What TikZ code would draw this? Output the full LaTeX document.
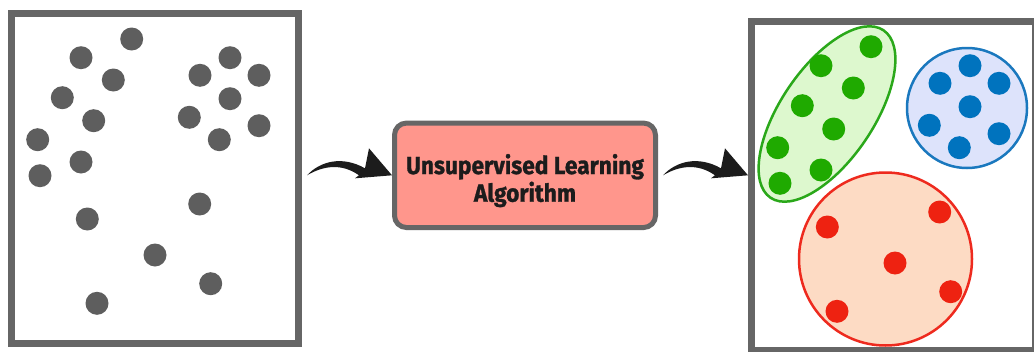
\documentclass[tikz,border=0pt]{standalone}
\usepackage{fontspec}
\setmainfont{Fira Sans}
\newfontfamily\algofont[BoldFeatures={FakeBold=1.2}]{Fira Sans}
\usetikzlibrary{calc,shapes.geometric}

\definecolor{framegray}{HTML}{666666}
\definecolor{dotgray}{HTML}{5E5E5E}
\definecolor{algofill}{HTML}{FF968C}
\definecolor{ink}{HTML}{1C1C1C}
\definecolor{gdot}{HTML}{1FAA00}
\definecolor{gline}{HTML}{2AA81A}
\definecolor{gfill}{HTML}{DDF8CE}
\definecolor{bdot}{HTML}{0073BE}
\definecolor{bline}{HTML}{1A78BE}
\definecolor{bfill}{HTML}{DDE3FB}
\definecolor{rdot}{HTML}{EE2211}
\definecolor{rline}{HTML}{EE2A1E}
\definecolor{rfill}{HTML}{FDDBC4}

\tikzset{
  framebox/.style={draw=framegray, line width=7, rectangle, inner sep=0,
    minimum width=287, minimum height=330},
  algobox/.style={draw=framegray, fill=algofill, line width=5, rectangle,
    rounded corners=12, inner sep=0, minimum width=261, minimum height=104.5},
  algotext/.style={text=ink, align=center, inner sep=0,
    font=\fontsize{24.7}{27.7}\algofont\bfseries},
  dot/.style={circle, inner sep=0, minimum size=23, draw=none},
  cluster/.style={inner sep=0, line width=2.5},
}

% curved brush-stroke arrow: #1 = tail coordinate, #2 = tip coordinate
\newcommand\brusharrow[2]{%
  \fill[ink] (#1)
    .. controls ($(#2)+(-72,-14)$) and ($(#2)+(-50,-20)$) .. ($(#2)+(-27,-7)$)
    -- ($(#2)+(-23,-27)$) -- (#2) -- ($(#2)+(-37,3)$) -- ($(#2)+(-33,0)$)
    .. controls ($(#2)+(-50,-12)$) and ($(#2)+(-68,-10)$) .. (#1) -- cycle;
}

\begin{document}
\begin{tikzpicture}[x=1pt, y=-1pt]
\clip (0,0) rectangle (1034,351);
\fill[white] (0,0) rectangle (1034,351);

% input data
\node[framebox] (raw) at (155,178.5) {};
\foreach \x/\y [count=\i] in {131.7/39, 81/57.7, 113.3/80, 62.3/97.7, 93.7/120.7,
    37.7/139.7, 81/162, 40/175.7, 87.3/219, 155/255, 97/303.3, 210.7/283.7,
    199.7/204, 230/57.7, 200/75.3, 259/75.3, 230/98.7, 189.3/117.3, 259/125.7,
    219.3/139.7}
  \node[dot, fill=dotgray] (p\i) at (\x,\y) {};

% algorithm
\node[algobox] (alg) at (525,175.3) {};
\node[algotext] (algl) at ($(alg.center)+(0,5.3)$)
  {\scalebox{0.92}[1]{Unsupervised Learning}\\\scalebox{0.92}[1]{Algorithm}};

% clustered output
\node[framebox, minimum width=284, minimum height=329] (out) at (893.5,186) {};
\node[cluster, ellipse, draw=gline, fill=gfill, minimum width=202,
  minimum height=93, rotate=56] (gc) at (827,114) {};
\node[cluster, circle, draw=bline, fill=bfill, minimum size=120] (bc) at (967,108) {};
\node[cluster, circle, draw=rline, fill=rfill, minimum size=173] (rc) at (885.5,259) {};

\foreach \x/\y [count=\i] in {871/46.7, 821/65.7, 853.3/88, 802.3/105.7,
    833.7/129, 777.7/147.7, 821/170, 780/183.3}
  \node[dot, fill=gdot] (g\i) at (\x,\y) {};
\foreach \x/\y [count=\i] in {970/65.7, 940/83.3, 999/83.3, 970/106.7,
    929.3/125.3, 999/133.7, 959.3/147.7}
  \node[dot, fill=bdot] (b\i) at (\x,\y) {};
\foreach \x/\y [count=\i] in {827.3/227, 895/263, 837/311.3, 950.7/291.7,
    939.7/212}
  \node[dot, fill=rdot] (r\i) at (\x,\y) {};

% connectors
\coordinate (a1) at ($(raw.east |- alg.west)+(5,0)$);
\coordinate (t2) at (out.west |- alg.east);
\coordinate (a2) at ($(alg.east)+(5,0)$);
\brusharrow{a1}{alg.west}
\brusharrow{a2}{t2}
\end{tikzpicture}
\end{document}
